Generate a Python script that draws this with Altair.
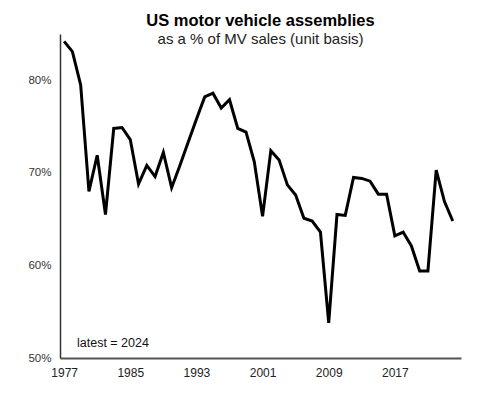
import altair as alt
import pandas as pd

years = list(range(1977, 2025))
share_pct = [84.2, 83.1, 79.5, 68.0, 71.9, 65.5, 74.8, 74.9, 73.6, 68.8,
             70.8, 69.6, 72.2, 68.4, 70.8, 73.3, 75.8, 78.2, 78.6, 77.0,
             77.9, 74.8, 74.4, 71.2, 65.3, 72.4, 71.4, 68.7, 67.6, 65.1,
             64.8, 63.6, 53.8, 65.5, 65.4, 69.5, 69.4, 69.1, 67.7, 67.7,
             63.2, 63.6, 62.1, 59.4, 59.4, 70.3, 66.9, 64.8]
x_ticks = [1977, 1985, 1993, 2001, 2009, 2017]
y_ticks = [50, 60, 70, 80]
note_text = ["latest = 2024"]

df = pd.DataFrame({"year": years, "share": share_pct})

FONT = "Liberation Sans"

line = alt.Chart(df).mark_line(color="black", strokeWidth=3).encode(
    x=alt.X("year:Q",
            scale=alt.Scale(domain=[1976.5, 2025], nice=False, zero=False),
            axis=alt.Axis(values=x_ticks, format="d", title=None, grid=False,
                          ticks=False, labelPadding=9, labelFontSize=12,
                          labelColor="#222", labelFont=FONT,
                          domainColor="#555", domainWidth=2)),
    y=alt.Y("share:Q",
            scale=alt.Scale(domain=[50, 85], nice=False, zero=False),
            axis=alt.Axis(values=y_ticks, labelExpr="datum.value + '%'",
                          title=None, grid=False, ticks=False,
                          labelPadding=9, labelFontSize=11.5,
                          labelColor="#333", labelFont=FONT,
                          domainColor="#333", domainWidth=1.5)),
)

note = alt.Chart(pd.DataFrame({"t": note_text})).mark_text(
    align="left", baseline="middle", fontSize=12.5, font=FONT, color="#111"
).encode(text="t:N", x=alt.value(17), y=alt.value(309))

chart = alt.layer(line, note).properties(
    width=401, height=324,
    autosize=alt.AutoSizeParams(type="none"),
    padding={"left": 52, "top": 26, "right": 27, "bottom": 27},
    title=alt.TitleParams(
        text="US motor vehicle assemblies",
        subtitle="as a % of MV sales (unit basis)",
        anchor="middle", frame="group", offset=-13,
        font=FONT, fontSize=16.5, fontWeight="bold", color="#000",
        subtitleFont=FONT, subtitleFontSize=15, subtitleColor="#222",
        subtitlePadding=3,
    ),
).configure_view(stroke=None)

chart.save("out.html", embed_options={"renderer": "svg", "actions": False})
